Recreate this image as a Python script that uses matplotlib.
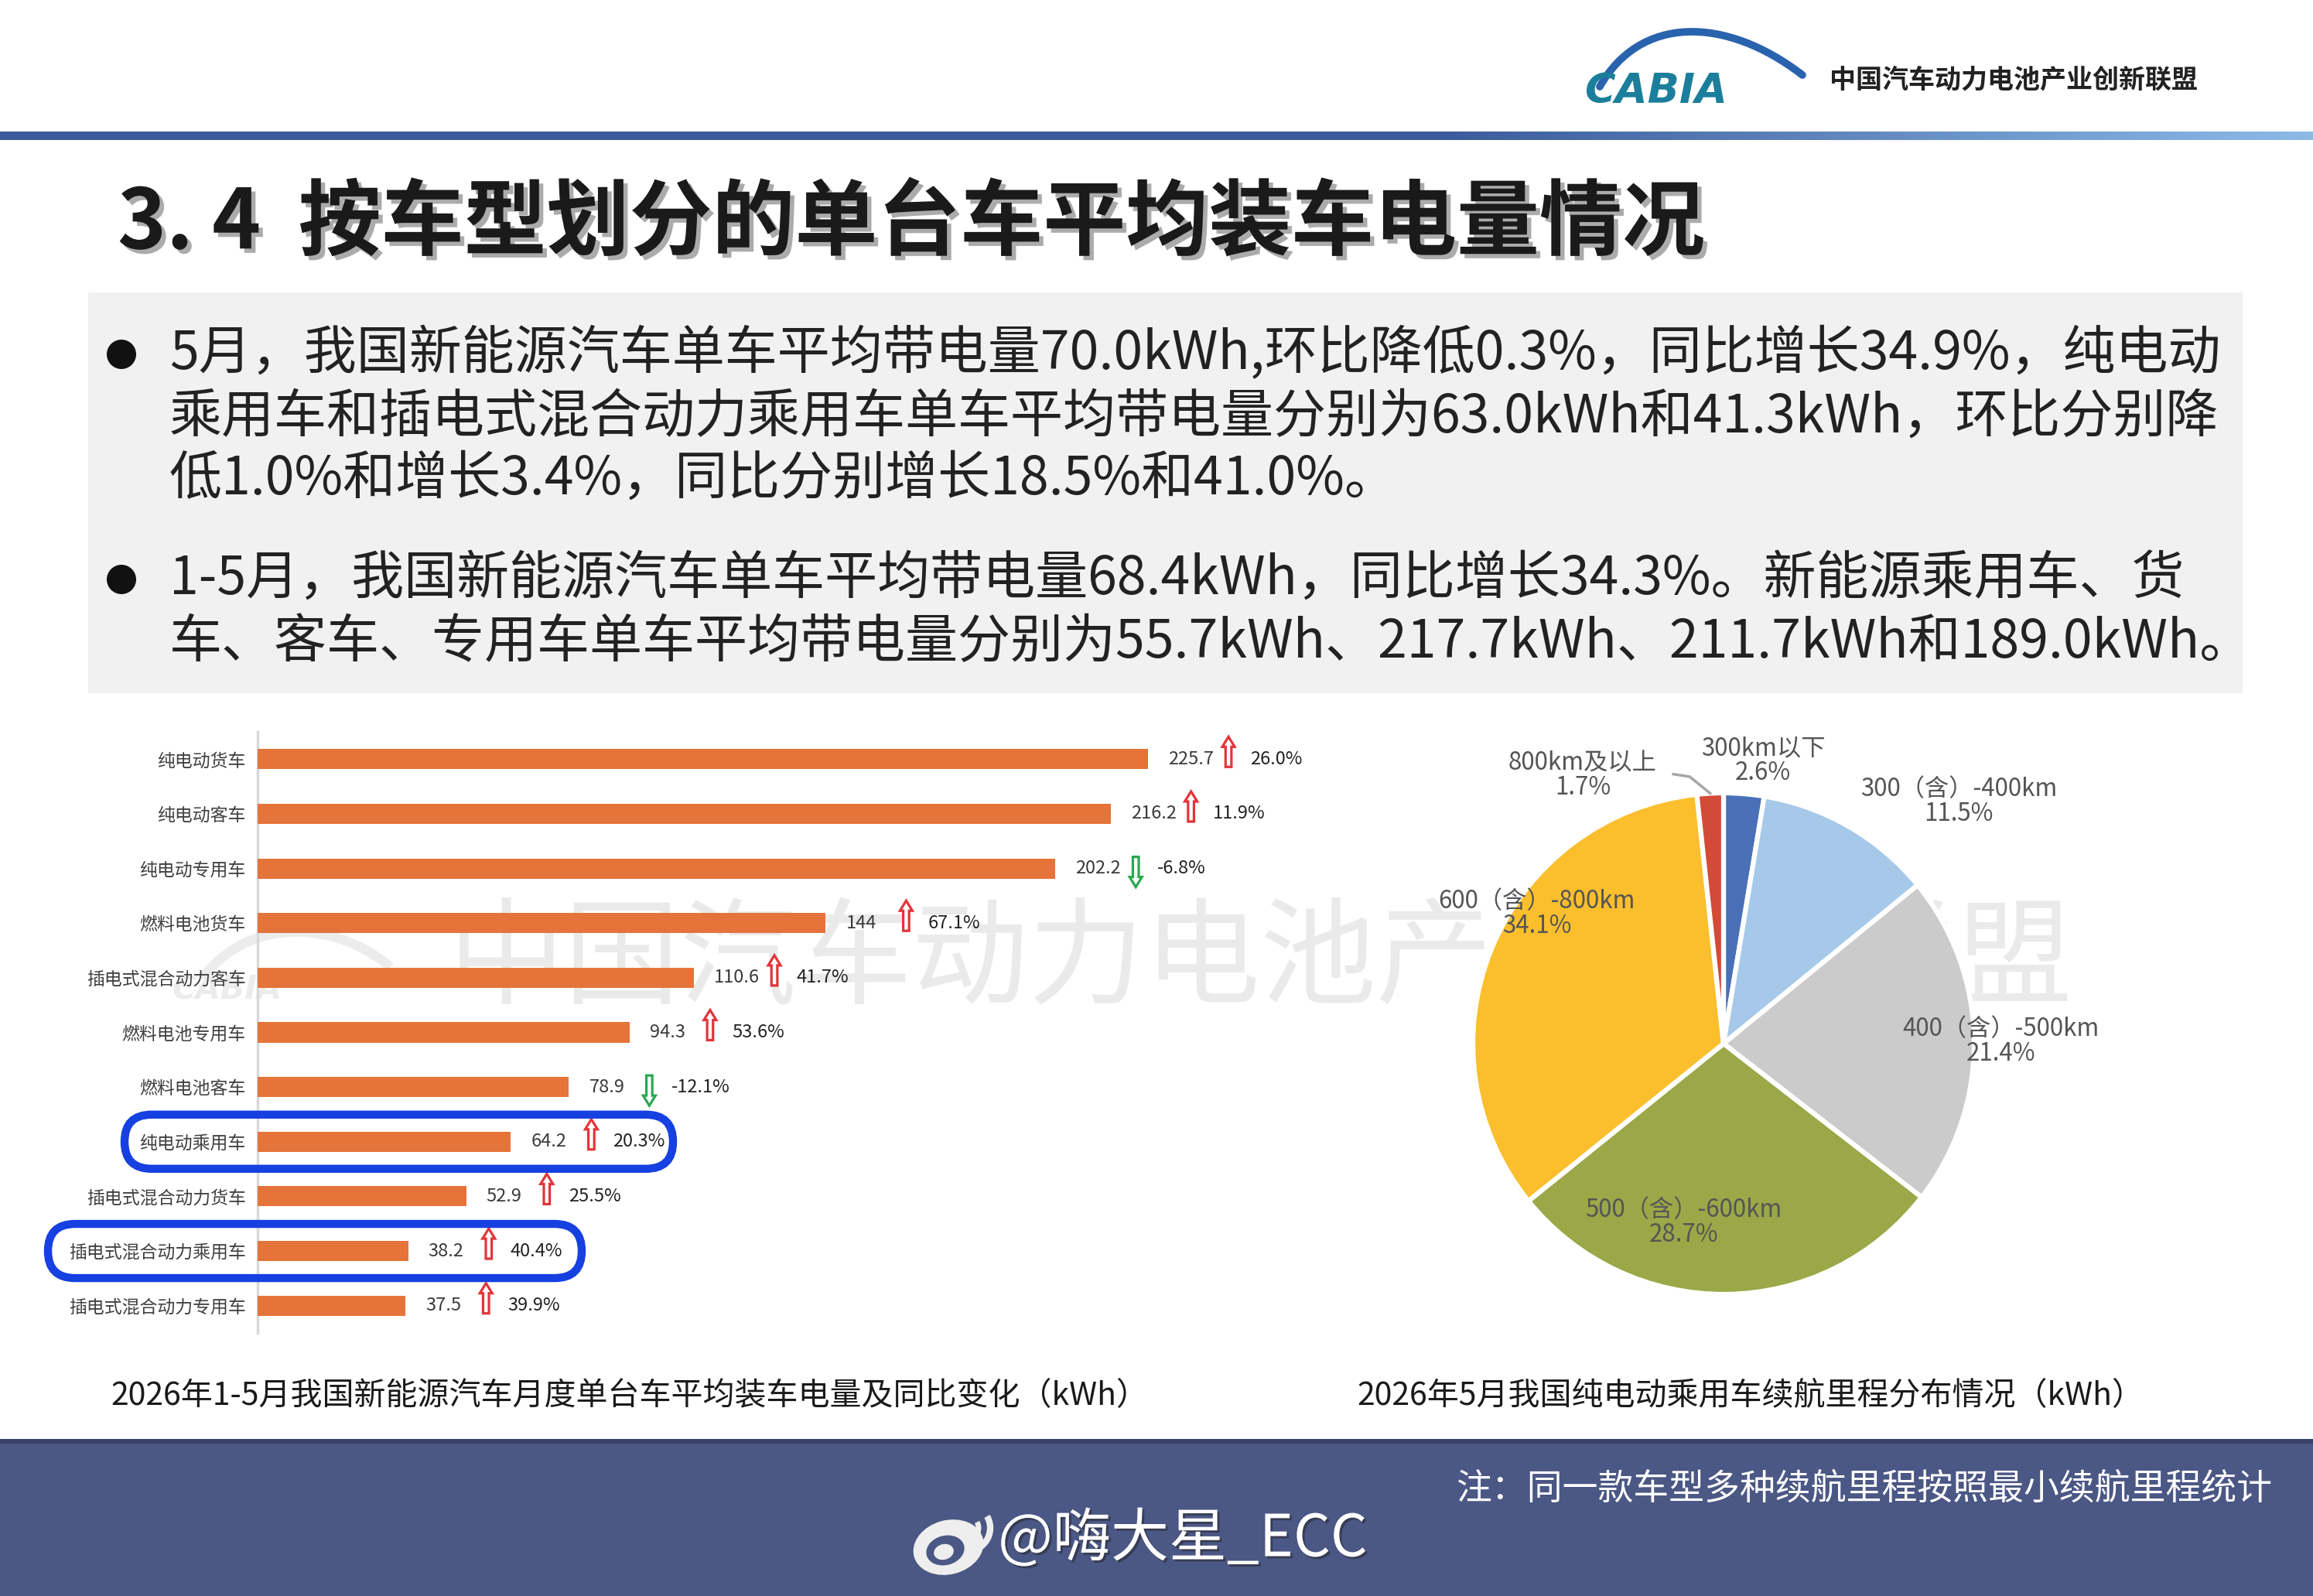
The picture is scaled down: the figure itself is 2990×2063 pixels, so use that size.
import numpy as np
import matplotlib
matplotlib.use('Agg')
import matplotlib.pyplot as plt
from matplotlib.patches import Rectangle, FancyBboxPatch, Polygon, Circle, Ellipse, Arc, PathPatch
from matplotlib.path import Path
import matplotlib.patheffects as pe
from matplotlib.colors import to_rgb

plt.rcParams['font.family'] = ['Noto Sans CJK SC', 'DejaVu Sans']

# ---------------- data ----------------
categories = ['纯电动货车', '纯电动客车', '纯电动专用车', '燃料电池货车', '插电式混合动力客车',
              '燃料电池专用车', '燃料电池客车', '纯电动乘用车', '插电式混合动力货车',
              '插电式混合动力乘用车', '插电式混合动力专用车']
avg_kwh = [225.7, 216.2, 202.2, 144, 110.6, 94.3, 78.9, 64.2, 52.9, 38.2, 37.5]
value_text = ['225.7', '216.2', '202.2', '144', '110.6', '94.3', '78.9', '64.2', '52.9', '38.2', '37.5']
yoy_pct = [26.0, 11.9, -6.8, 67.1, 41.7, 53.6, -12.1, 20.3, 25.5, 40.4, 39.9]
highlighted = ['纯电动乘用车', '插电式混合动力乘用车']

range_labels = ['300km以下', '300（含）-400km', '400（含）-500km', '500（含）-600km',
                '600（含）-800km', '800km及以上']
range_share = [2.6, 11.5, 21.4, 28.7, 34.1, 1.7]
range_colors = ['#4a70b8', '#a6c9ea', '#cbcbcb', '#9ba847', '#fbbf2d', '#d24b37']
# label placement in pie-radius units (hand placed in the original slide)
range_label_pos = [(0.157, 1.13), (0.938, 0.966), (1.108, 0.009), (-0.16, -0.713),
                   (-0.744, 0.519), (-0.562, 1.071)]

title = '3. 4  按车型划分的单台车平均装车电量情况'
bullets = [
    ['5月，我国新能源汽车单车平均带电量70.0kWh,环比降低0.3%，同比增长34.9%，纯电动',
     '乘用车和插电式混合动力乘用车单车平均带电量分别为63.0kWh和41.3kWh，环比分别降',
     '低1.0%和增长3.4%，同比分别增长18.5%和41.0%。'],
    ['1-5月，我国新能源汽车单车平均带电量68.4kWh，同比增长34.3%。新能源乘用车、货',
     '车、客车、专用车单车平均带电量分别为55.7kWh、217.7kWh、211.7kWh和189.0kWh。'],
]
bar_caption = '2026年1-5月我国新能源汽车月度单台车平均装车电量及同比变化（kWh）'
pie_caption = '2026年5月我国纯电动乘用车续航里程分布情况（kWh）'
note = '注：同一款车型多种续航里程按照最小续航里程统计'
org_name = '中国汽车动力电池产业创新联盟'

# ---------------- canvas ----------------
W, H = 2990, 2063
fig = plt.figure(figsize=(W / 100, H / 100), dpi=100)
fig.patch.set_facecolor('white')

bg = fig.add_axes([0, 0, 1, 1])
bg.axis('off')


def box(x0, y0, x1, y1):
    return [x0 / W, 1 - y1 / H, (x1 - x0) / W, (y1 - y0) / H]


# header gradient line
c0, c1 = np.array(to_rgb('#3b5a9a')), np.array(to_rgb('#8cbbe8'))
xs = np.linspace(0, 1, 600)
t = np.clip((xs - 0.62) / 0.38, 0, 1)[:, None]
grad = (c0 * (1 - t) + c1 * t)[None, :, :]
bg.imshow(grad, extent=(0, W, 181, 170), aspect='auto', zorder=1)

# header logo
arc = Path([(2068, 112), (2120, 20), (2230, 20), (2330, 97)],
           [Path.MOVETO, Path.CURVE4, Path.CURVE4, Path.CURVE4])
bg.add_patch(PathPatch(arc, fc='none', ec='#2a63ad', lw=7, capstyle='round', zorder=2))
bg.text(2048, 118, 'CABIA', fontsize=39, fontweight='bold', fontstyle='italic',
        family='DejaVu Sans', color='#1b7f9c', va='center', ha='left', zorder=3)
bg.text(2365, 103, org_name, fontsize=24.5, fontweight='bold', color='#222222',
        va='center', ha='left', zorder=3)

# title with shadow
bg.text(152, 290, title, fontsize=77, fontweight='bold', color='#1a1a1a', va='center',
        path_effects=[pe.SimplePatchShadow(offset=(4, -4), shadow_rgbFace='#666666', alpha=0.55),
                      pe.Normal()], zorder=3)

# grey text box
bg.add_patch(Rectangle((114, 378), 2785, 518, fc='#f1f1f1', ec='none', zorder=1))
line_y = [[458, 540, 620], [749, 831]]
for lines, ys in zip(bullets, line_y):
    bg.add_patch(Circle((157, ys[0]), 19, fc='#111111', ec='none', zorder=2))
    for txt, y in zip(lines, ys):
        bg.text(219, y, txt, fontsize=49, color='#222222', va='center', ha='left', zorder=3)

# watermark
bg.text(580, 1243, org_name, fontsize=108, color='#eaeaea', va='center', ha='left', zorder=1)
wm_arc = Path([(262, 1265), (310, 1195), (420, 1180), (505, 1250)],
              [Path.MOVETO, Path.CURVE4, Path.CURVE4, Path.CURVE4])
bg.add_patch(PathPatch(wm_arc, fc='none', ec='#ececec', lw=9, zorder=1))
bg.text(222, 1279, 'CABIA', fontsize=30, fontweight='bold', fontstyle='italic',
        family='DejaVu Sans', color='#ececec', va='center', ha='left', zorder=1)

# captions
bg.text(143, 1805, bar_caption, fontsize=29.5, color='#1a1a1a', va='center', ha='left')
bg.text(1754, 1805, pie_caption, fontsize=29.5, color='#1a1a1a', va='center', ha='left')

# footer
bg.add_patch(Rectangle((0, 1864), W, 200, fc='#4b5784', ec='none', zorder=1))
bg.add_patch(Rectangle((0, 1860), W, 6, fc='#394166', ec='none', zorder=2))
bg.text(1882, 1925, note, fontsize=33, color='white', va='center', ha='left', zorder=3)
bg.add_patch(Ellipse((1226, 2000), 92, 70, angle=-15, fc='#eeeeee', ec='none', zorder=3))
bg.add_patch(Ellipse((1222, 2004), 50, 38, angle=-15, fc='#4b5784', ec='none', zorder=4))
bg.add_patch(Ellipse((1220, 2006), 26, 20, angle=-15, fc='#eeeeee', ec='none', zorder=5))
bg.add_patch(Arc((1250, 1975), 60, 60, theta1=-30, theta2=80, ec='#eeeeee', lw=6, zorder=3))
bg.add_patch(Arc((1250, 1975), 30, 30, theta1=-30, theta2=80, ec='#eeeeee', lw=5, zorder=3))
bg.text(1290, 1990, '@嗨大星_ECC', fontsize=54, color='white', va='center', ha='left', zorder=3,
        path_effects=[pe.SimplePatchShadow(offset=(2, -2), shadow_rgbFace='#222222', alpha=0.5),
                      pe.Normal()])

bg.set_xlim(0, W)
bg.set_ylim(H, 0)

# ---------------- bar chart ----------------
x_left, x_right, y_top, y_bot = 333, 1812, 946, 1723
xmax = 290
ax = fig.add_axes(box(x_left, y_top, x_right, y_bot))
ax.patch.set_alpha(0)
ypos = np.arange(len(categories))
ax.barh(ypos, avg_kwh, height=0.37, color='#e5743a', zorder=3)
ax.set_xlim(0, xmax)
ax.set_ylim(len(categories) - 0.5, -0.5)
ax.set_yticks(ypos)
ax.set_yticklabels(categories, fontsize=16.5, color='#404040')
ax.tick_params(axis='y', length=0, pad=11)
ax.set_xticks([])
for s in ['top', 'right', 'bottom']:
    ax.spines[s].set_visible(False)
ax.spines['left'].set_color('#d9d9d9')
ax.spines['left'].set_linewidth(2.5)

ux = xmax / (x_right - x_left)            # data units per pixel, x
uy = len(categories) / (y_bot - y_top)    # data units per pixel, y
up_shape = [(0, -20), (8, -7), (3.8, -7), (3.8, 19), (-3.8, 19), (-3.8, -7), (-8, -7)]
for i, (v, lab, p) in enumerate(zip(avg_kwh, value_text, yoy_pct)):
    ax.text(v + 26 * ux, i, lab, fontsize=17, color='#3a3a3a', va='center', ha='left', zorder=4)
    ax_c = v + 104 * ux
    if p >= 0:
        col, yc, sgn = '#e3343a', i - 9 * uy, 1
    else:
        col, yc, sgn = '#2aa84f', i + 4 * uy, -1
    pts = [(ax_c + dx * ux, yc + sgn * dy * uy) for dx, dy in up_shape]
    ax.add_patch(Polygon(pts, closed=True, fc='white', ec=col, lw=2.3, zorder=4))
    ax.text(ax_c + 28 * ux, i, f'{p:.1f}%', fontsize=17, color='#222222',
            va='center', ha='left', zorder=4)

# ---------------- pie chart ----------------
cx, cy, r = 2228, 1349, 324
pax = fig.add_axes(box(cx - r, cy - r, cx + r, cy + r))
pax.patch.set_alpha(0)
wedges, _ = pax.pie(range_share, colors=range_colors, startangle=90, counterclock=False,
                    radius=1, wedgeprops=dict(edgecolor='white', linewidth=4.5))
pax.set_xlim(-1, 1)
pax.set_ylim(-1, 1)
pax.set_aspect('equal')
pax.axis('off')
for lab, share, (lx, ly) in zip(range_labels, range_share, range_label_pos):
    pax.text(lx, ly, f'{lab}\n{share:.1f}%', fontsize=22.5, color='#555555',
             ha='center', va='center', linespacing=1.0)
# leader line for the thin last wedge
w = wedges[-1]
mid = np.deg2rad((w.theta1 + w.theta2) / 2)
pax.plot([-0.20, -0.135, np.cos(mid)], [1.075, 1.065, np.sin(mid)],
         color='#a6a6a6', lw=2.5, clip_on=False)

# ---------------- highlight boxes ----------------
top = fig.add_axes([0, 0, 1, 1])
top.set_xlim(0, W)
top.set_ylim(H, 0)
top.axis('off')
for name in highlighted:
    i = categories.index(name)
    row_y = y_top + (i + 0.5) / uy
    x0 = 161 if name == highlighted[0] else 62
    x1 = 870 if name == highlighted[0] else 752
    top.add_patch(FancyBboxPatch((x0, row_y - 35), x1 - x0, 70,
                                 boxstyle='round,pad=0,rounding_size=35',
                                 fc='none', ec='#1640e0', lw=7.5))

fig.savefig('out.png', dpi=100, facecolor='white')
